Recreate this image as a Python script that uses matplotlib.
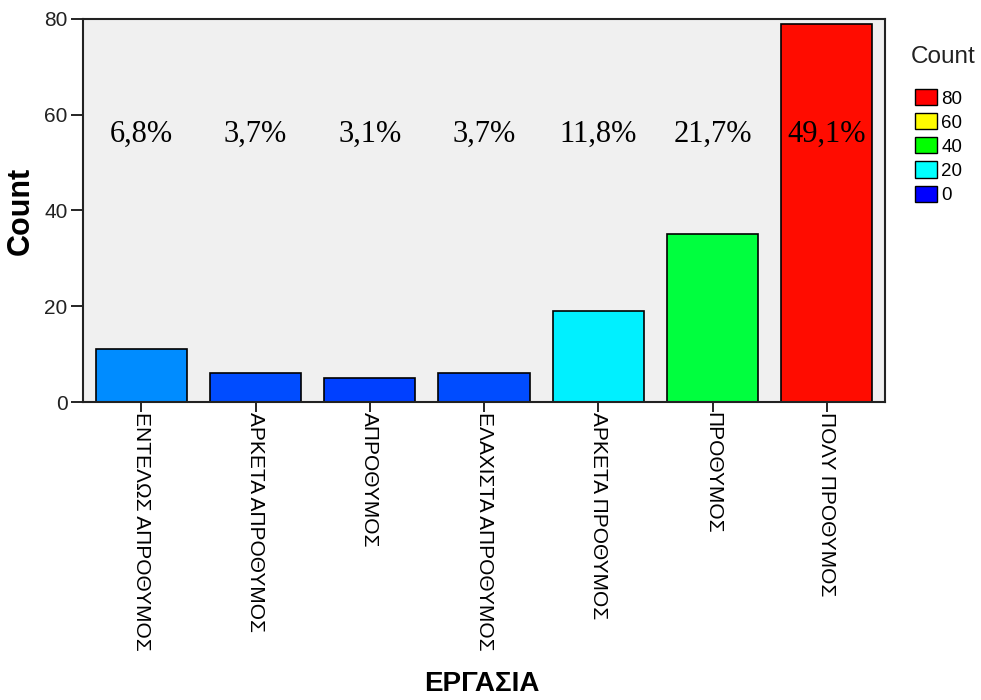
import matplotlib
matplotlib.use("Agg")
import matplotlib.pyplot as plt
from matplotlib.colors import LinearSegmentedColormap, Normalize
from matplotlib.patches import Patch

# data
categories = [
    "ΕΝΤΕΛΩΣ ΑΠΡΟΘΥΜΟΣ",
    "ΑΡΚΕΤΑ ΑΠΡΟΘΥΜΟΣ",
    "ΑΠΡΟΘΥΜΟΣ",
    "ΕΛΑΧΙΣΤΑ ΑΠΡΟΘΥΜΟΣ",
    "ΑΡΚΕΤΑ ΠΡΟΘΥΜΟΣ",
    "ΠΡΟΘΥΜΟΣ",
    "ΠΟΛΥ ΠΡΟΘΥΜΟΣ",
]
counts = [11, 6, 5, 6, 19, 35, 79]
percent_labels = ["6,8%", "3,7%", "3,1%", "3,7%", "11,8%", "21,7%", "49,1%"]
legend_values = [80, 60, 40, 20, 0]
y_ticks = [0, 20, 40, 60, 80]

plt.rcParams["font.family"] = ["Liberation Sans", "DejaVu Sans"]

# SPSS-like count colour scale: blue -> cyan -> green -> yellow -> red
cmap = LinearSegmentedColormap.from_list(
    "spss", ["#0000ff", "#00ffff", "#00ff00", "#ffff00", "#ff0000"]
)
norm = Normalize(vmin=0, vmax=80)

fig = plt.figure(figsize=(9.81, 7.0), dpi=100)
ax = fig.add_axes([0.0846, 0.4257, 0.8176, 0.5472])
ax.set_facecolor("#f0f0f0")

x = range(len(categories))
ax.bar(x, counts, width=0.8, color=[cmap(norm(c)) for c in counts],
       edgecolor="black", linewidth=1.2, zorder=2)

for i, lab in enumerate(percent_labels):
    ax.text(i, 56, lab, ha="center", va="center", fontsize=22,
            family="Liberation Serif", color="black", zorder=3)

ax.set_xlim(-0.51, len(categories) - 0.49)
ax.set_ylim(0, 80)
ax.set_yticks(y_ticks)
ax.set_xticks(list(x))
ax.set_xticklabels(categories, rotation=-90, ha="center", va="top",
                   fontsize=15)
ax.tick_params(axis="y", length=9, width=1.2, pad=2, labelsize=15,
               labelcolor="#222222")
ax.tick_params(axis="x", length=7, width=1.2, pad=0)
for s in ax.spines.values():
    s.set_linewidth(1.5)
    s.set_color("#222222")

ax.set_ylabel("Count", fontsize=22, fontweight="bold", labelpad=6)
fig.text(482 / 981, 1 - 684 / 700, "ΕΡΓΑΣΙΑ", ha="center", va="center",
         fontsize=20, fontweight="bold")

# legend for the colour scale
fig.text(911 / 981, 1 - 57 / 700, "Count", ha="left", va="center",
         fontsize=17.5, color="#222222")
handles = [Patch(facecolor=cmap(norm(v)), edgecolor="black", linewidth=1.0)
           for v in legend_values]
fig.legend(handles, [str(v) for v in legend_values],
           loc="upper left", bbox_to_anchor=(915 / 981, 1 - 89 / 700),
           frameon=False, fontsize=13.5, handlelength=1.15,
           handleheight=0.95, labelspacing=0.3, handletextpad=0.25,
           borderaxespad=0, borderpad=0)

fig.savefig("out.png", dpi=100)
